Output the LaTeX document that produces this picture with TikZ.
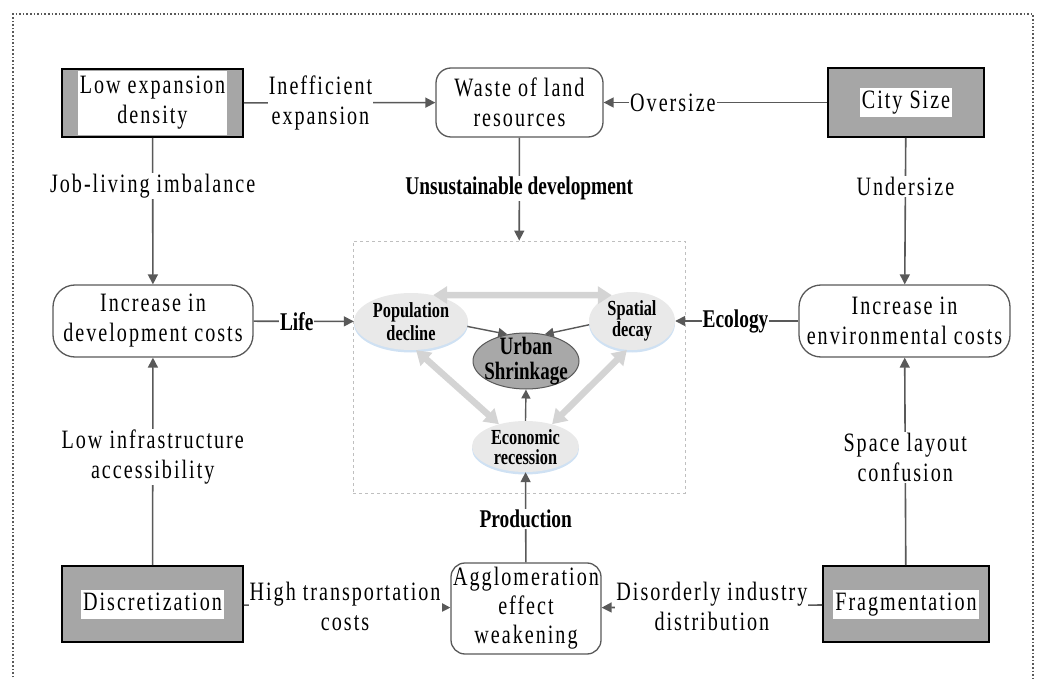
\documentclass[tikz,border=0pt]{standalone}
\usepackage{fontspec}
\setmainfont{Liberation Serif}
\newfontfamily\regf{Liberation Serif}[FakeStretch=0.76,LetterSpace=7.5]
\newfontfamily\bcf{Liberation Serif}[FakeStretch=0.76]
\usetikzlibrary{shapes.geometric,arrows.meta,shadows,calc}
\definecolor{boxgray}{HTML}{A6A6A6}
\definecolor{linegray}{HTML}{595959}
\definecolor{ellfill}{HTML}{E9E9E9}
\definecolor{dblgray}{HTML}{D4D4D4}
\definecolor{glow}{HTML}{CFE1F3}
\definecolor{urbfill}{HTML}{A8A8A8}
\newcommand{\wb}[1]{{\setlength{\fboxsep}{2pt}\colorbox{white}{#1}}}
\newcommand{\wstrut}{\rule[-6pt]{0pt}{25pt}}
\begin{document}
\begin{tikzpicture}[x=1pt,y=-1pt,
  regtxt/.style={font=\regf\fontsize{26.5}{30}\selectfont, align=center},
  graybox/.style={regtxt, draw=black, line width=1.8pt, fill=boxgray, inner sep=0pt},
  rbox/.style={regtxt, draw=linegray, line width=1.3pt, fill=white, inner sep=0pt},
  arr/.style={draw=linegray, line width=1.6pt, -{Triangle[length=10pt,width=10pt]}},
  lbl/.style={regtxt, fill=white, inner sep=1pt},
  blbl/.style={font=\bcf\bfseries\fontsize{25.5}{28}\selectfont, fill=white, inner sep=1pt},
  ell/.style={ellipse, fill=ellfill, draw=none, inner sep=0pt,
     drop shadow={shadow xshift=0pt, shadow yshift=-2.5pt, fill=glow, opacity=1}},
  etxt/.style={font=\bcf\bfseries\fontsize{21.5}{23}\selectfont, align=center, inner sep=0pt},
  dbl/.style={draw=dblgray, line width=6.5pt, {Triangle[length=14pt,width=17pt]}-{Triangle[length=14pt,width=17pt]}}
]
\useasboundingbox (0,0) rectangle (1037,679);
% outer dotted frame
\draw[linegray, line width=1.6pt, dotted] (13,681) -- (13,14) -- (1033,14) -- (1033,681);

% corner boxes
\node[graybox, minimum width=181pt, minimum height=68pt] (low) at (152.5,103)
  {\wb{\begin{tabular}{@{}c@{}}Low expansion\\density\end{tabular}}};
\node[graybox, minimum width=156pt, minimum height=69pt] (city) at (906,102.5)
  {\wb{\wstrut City Size}};
\node[graybox, minimum width=181pt, minimum height=76pt] (disc) at (152.5,604)
  {\wb{\wstrut Discretization}};
\node[graybox, minimum width=166pt, minimum height=76pt] (frag) at (906,604)
  {\wb{\wstrut Fragmentation}};

% rounded boxes
\node[rbox, rounded corners=15pt, minimum width=167pt, minimum height=69pt] (waste) at (519.5,102.5)
  {Waste of land\\resources};
\node[rbox, rounded corners=22pt, minimum width=200pt, minimum height=72pt] (dev) at (153,321)
  {Increase in\\development costs};
\node[rbox, rounded corners=22pt, minimum width=211pt, minimum height=72pt] (env) at (904.5,321)
  {Increase in\\environmental costs};
\node[rbox, rounded corners=14pt, minimum width=150pt, minimum height=91pt, font=\regf\fontsize{26.5}{29}\selectfont] (agg) at (526,608.5)
  {Agglomeration\\effect\\weakening};

% central dashed frame
\node[draw=black!25, dashed, line width=0.8pt, minimum width=332pt, minimum height=252pt, inner sep=0pt] (core) at (519,367) {};

% ellipses
\node[ell, minimum width=114pt, minimum height=57pt] (pop) at (411,321.5) {};
\node[etxt] (popt) at (411,322) {Population\\decline};
\node[ell, minimum width=86pt, minimum height=58pt] (spat) at (632,321) {};
\node[etxt, font=\bcf\bfseries\fontsize{21.5}{16}\selectfont] (spatt) at (632,321) {Spatial\\decay};
\node[ell, minimum width=107pt, minimum height=51pt] (econ) at (525.5,446.5) {};
\node[etxt, font=\bcf\bfseries\fontsize{21.5}{20}\selectfont] (econt) at (525.5,447) {Economic\\recession};
\node[ellipse, fill=urbfill, draw=linegray, line width=1pt, minimum width=106pt, minimum height=56pt, inner sep=0pt] (urban) at (526,361) {};
\node[etxt, font=\bcf\bfseries\fontsize{25}{25}\selectfont] (urbant) at (526,361) {Urban\\Shrinkage};

% light double arrows
\draw[dbl] (pop.50) -- (spat.128);
\draw[dbl] (pop.-80) -- (econ.140);
\draw[dbl] (spat.-100) -- (econ.40);

% dark arrows into urban shrinkage
\draw[arr, line width=1.4pt, -{Triangle[length=9pt,width=9pt]}] (pop.-5) -- (urban.125);
\draw[arr, line width=1.4pt, -{Triangle[length=9pt,width=9pt]}] (spat.185) -- (urban.55);
\draw[arr, line width=1.4pt, -{Triangle[length=9pt,width=9pt]}] (econ.north) -- (urban.south);

% connectors with labels
\draw[arr] (low) -- node[lbl, pos=0.4] (l1) {Inefficient\\expansion} (waste);
\draw[arr] (city) -- node[lbl, pos=0.69] (l2) {Oversize} (waste);
\draw[arr] (waste) -- node[blbl, pos=0.49] (l3) {Unsustainable development} (core);
\draw[arr] (low) -- node[lbl, pos=0.33] (l4) {Job-living imbalance} (dev);
\draw[arr] (city) -- node[lbl, pos=0.33] (l5) {Undersize} (env);
\draw[arr] (disc) -- node[lbl, pos=0.52] (l6) {Low infrastructure\\accessibility} (dev);
\draw[arr] (frag) -- node[lbl, pos=0.52] (l7) {Space layout\\confusion} (env);
\draw[arr] (dev) -- node[blbl, pos=0.43] (l8) {Life} (pop);
\draw[arr] (env) -- node[blbl, pos=0.51] (l9) {Ecology} (spat);
\draw[arr] (agg) -- node[blbl, pos=0.48] (l10) {Production} (econ);
\draw[arr] (disc) -- node[lbl, pos=0.49] (l11) {High transportation\\costs} (agg);
\draw[arr] (frag) -- node[lbl, pos=0.5] (l12) {Disorderly industry\\distribution} (agg);
\end{tikzpicture}
\end{document}
